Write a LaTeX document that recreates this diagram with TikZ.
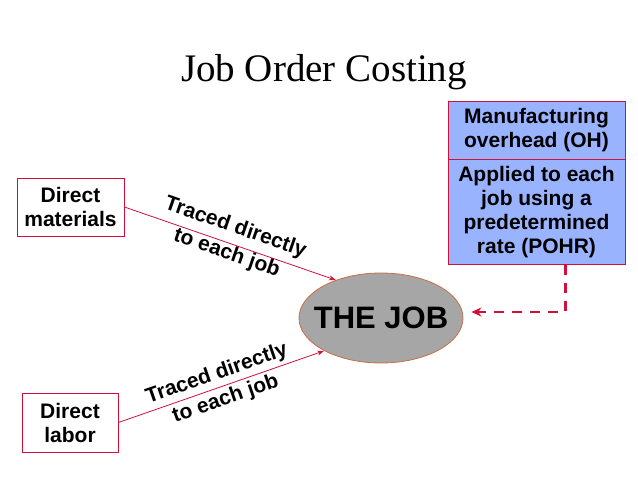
\documentclass[tikz,border=0pt]{standalone}
\usepackage{fontspec}
\setmainfont{Liberation Serif}
\setsansfont{Liberation Sans}
\usepackage{xcolor}
\definecolor{jobred}{RGB}{208,16,58}
\definecolor{jobblue}{RGB}{153,179,255}
\definecolor{jobgray}{RGB}{166,166,166}
\definecolor{joborange}{RGB}{196,112,72}
\usetikzlibrary{arrows.meta, positioning, shapes.geometric}

\tikzset{
  costbox/.style={draw=jobred, thick, fill=white, align=center, inner sep=3pt,
    font=\sffamily\bfseries\fontsize{21}{24}\selectfont},
  ohbox/.style={draw=jobred, thick, fill=jobblue, align=center, inner sep=2pt,
    minimum width=177pt, font=\sffamily\bfseries\fontsize{21}{24}\selectfont},
  trace/.style={-{Stealth[length=7pt,width=5pt]}, jobred, thick},
  tracelabel/.style={sloped, align=center, text=black,
    font=\sffamily\bfseries\fontsize{21}{27}\selectfont},
}

\begin{document}
\begin{tikzpicture}[x=1pt, y=-1pt]
\useasboundingbox (0,0) rectangle (638,479);

% --- title ---
\node[font=\fontsize{39}{42}\selectfont] (title) at (324,72) {Job Order Costing};

% --- cost sources ---
\node[costbox, minimum width=107pt, minimum height=58pt] (mat) at (70.5,207) {Direct\\materials};
\node[costbox, minimum width=96pt, minimum height=59pt] (lab) at (70,422.5) {Direct\\labor};

% --- the job ---
\node[ellipse, draw=joborange, thick, fill=jobgray, inner xsep=-14pt, inner ysep=0pt,
      minimum width=164pt, minimum height=90pt,
      font=\sffamily\bfseries\fontsize{31}{34}\selectfont] (job) at (381,318) {THE JOB};

% --- overhead ---
\node[ohbox, minimum height=58pt] (ohtop) at (536.5,130) {Manufacturing\\overhead (OH)};
\node[ohbox, minimum height=105pt, below=0pt of ohtop] (ohbot) {Applied to each\\job using a\\predetermined\\rate (POHR)};

% --- connectors ---
\draw[trace] (mat.east) -- node[tracelabel, yshift=3pt] {Traced directly\\to each job} (job.140);
\draw[trace] (lab.east) -- node[tracelabel] {Traced directly\\to each job} (job.210);

\coordinate (ohdrop) at ([xshift=29pt]ohbot.south);
\draw[-{Stealth[length=10pt,width=9pt]}, jobred, line width=2.6pt, dash pattern=on 10pt off 8pt,
      shorten >=8pt] (ohdrop) |- ([yshift=6pt]job.east);

\end{tikzpicture}
\end{document}
